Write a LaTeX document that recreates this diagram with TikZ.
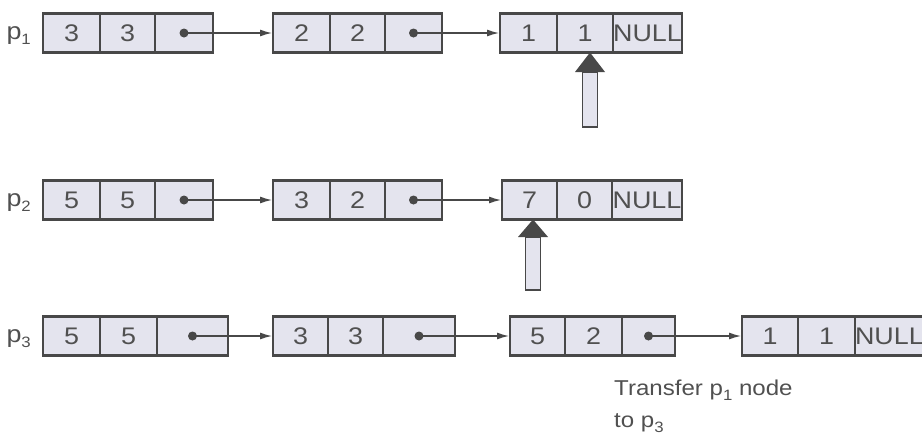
\documentclass[tikz,border=0pt]{standalone}
\usepackage{fontspec}
\setmainfont{Liberation Sans}
\newfontfamily\widesans[FakeStretch=1.12]{Liberation Sans}
\usetikzlibrary{arrows.meta}
\definecolor{cellfill}{HTML}{E4E4EE}
\definecolor{edge}{HTML}{484848}
\definecolor{ink}{HTML}{505050}
\tikzset{
  cell/.style={draw=edge, line width=1.3pt, fill=cellfill, minimum height=39pt,
    inner sep=0pt, outer sep=0pt, anchor=west, text=ink, font=\widesans\fontsize{24}{24}\selectfont},
  outer/.style={draw=edge, line width=2.6pt},
  link/.style={draw=edge, line width=1.3pt, -{Latex[length=12pt,width=7pt]}, shorten >=1pt},
  dotp/.style={fill=edge},
  lab/.style={text=ink, inner sep=0pt, font=\widesans\fontsize{24}{24}\selectfont},
  note/.style={text=ink, inner sep=0pt, align=left, font=\widesans\fontsize{21.5}{32}\selectfont},
  shaft/.style={draw=edge, line width=1.3pt, fill=cellfill, minimum width=15pt,
    inner sep=0pt, outer sep=0pt, anchor=north},
  head/.style={fill=edge}
}
\newcommand\sub[1]{\raisebox{-5pt}{\fontsize{15}{15}\selectfont #1}}
\newcommand\lcell[5]{\node[cell, minimum width={#3pt-#2pt}] (#1) at (#2,#4) {#5};}
\newcommand\lbox[9]{%
  \lcell{#1a}{#2}{#3}{#6}{#7}
  \lcell{#1b}{#3}{#4}{#6}{#8}
  \lcell{#1c}{#4}{#5}{#6}{#9}
  \draw[outer] (#1a.north west) rectangle (#1c.south east);
}
\begin{document}
\begin{tikzpicture}[x=1pt, y=-1pt]
\useasboundingbox (0,0) rectangle (922,445);
% row 1
\node[lab, anchor=east] (lp1) at (31,36) {p\sub{1}};
\lbox{A}{43}{100}{155}{213}{33}{3}{3}{}
\lbox{B}{273}{330}{385}{442}{33}{2}{2}{}
\lbox{C}{500}{557}{613}{682}{33}{1}{1}{NULL}
\fill[dotp] (Ac.center) circle (4.5);
\draw[link] (Ac.center) -- (Ba.west);
\fill[dotp] (Bc.center) circle (4.5);
\draw[link] (Bc.center) -- (Ca.west);
\node[shaft, minimum height=55pt] (s1) at (590,72) {};
\fill[head] ([xshift=-15pt]s1.north) -- ([xshift=15pt]s1.north) -- (s1.north |- Cb.south) -- cycle;
% row 2
\node[lab, anchor=east] (lp2) at (31,203) {p\sub{2}};
\lbox{D}{43}{100}{155}{213}{200}{5}{5}{}
\lbox{E}{273}{330}{385}{442}{200}{3}{2}{}
\lbox{F}{502}{557}{612}{682}{200}{7}{0}{NULL}
\fill[dotp] (Dc.center) circle (4.5);
\draw[link] (Dc.center) -- (Ea.west);
\fill[dotp] (Ec.center) circle (4.5);
\draw[link] (Ec.center) -- (Fa.west);
\node[shaft, minimum height=53pt] (s2) at (533,237) {};
\fill[head] ([xshift=-15pt]s2.north) -- ([xshift=15pt]s2.north) -- (s2.north |- Fa.south) -- cycle;
% row 3
\node[lab, anchor=east] (lp3) at (31,339) {p\sub{3}};
\lbox{G}{43}{100}{157}{228}{336}{5}{5}{}
\lbox{H}{273}{328}{383}{455}{336}{3}{3}{}
\lbox{I}{510}{565}{622}{675}{336}{5}{2}{}
\lbox{J}{742}{798}{855}{917}{336}{1}{1}{NULL}
\fill[dotp] (Gc.center) circle (4.5);
\draw[link] (Gc.center) -- (Ha.west);
\fill[dotp] (Hc.center) circle (4.5);
\draw[link] (Hc.center) -- (Ia.west);
\fill[dotp] (Ic.center) circle (4.5);
\draw[link] (Ic.center) -- (Ja.west);
\node[note, anchor=north west] (t) at (614,380) {Transfer p\sub{1} node\\to p\sub{3}};
\end{tikzpicture}
\end{document}
